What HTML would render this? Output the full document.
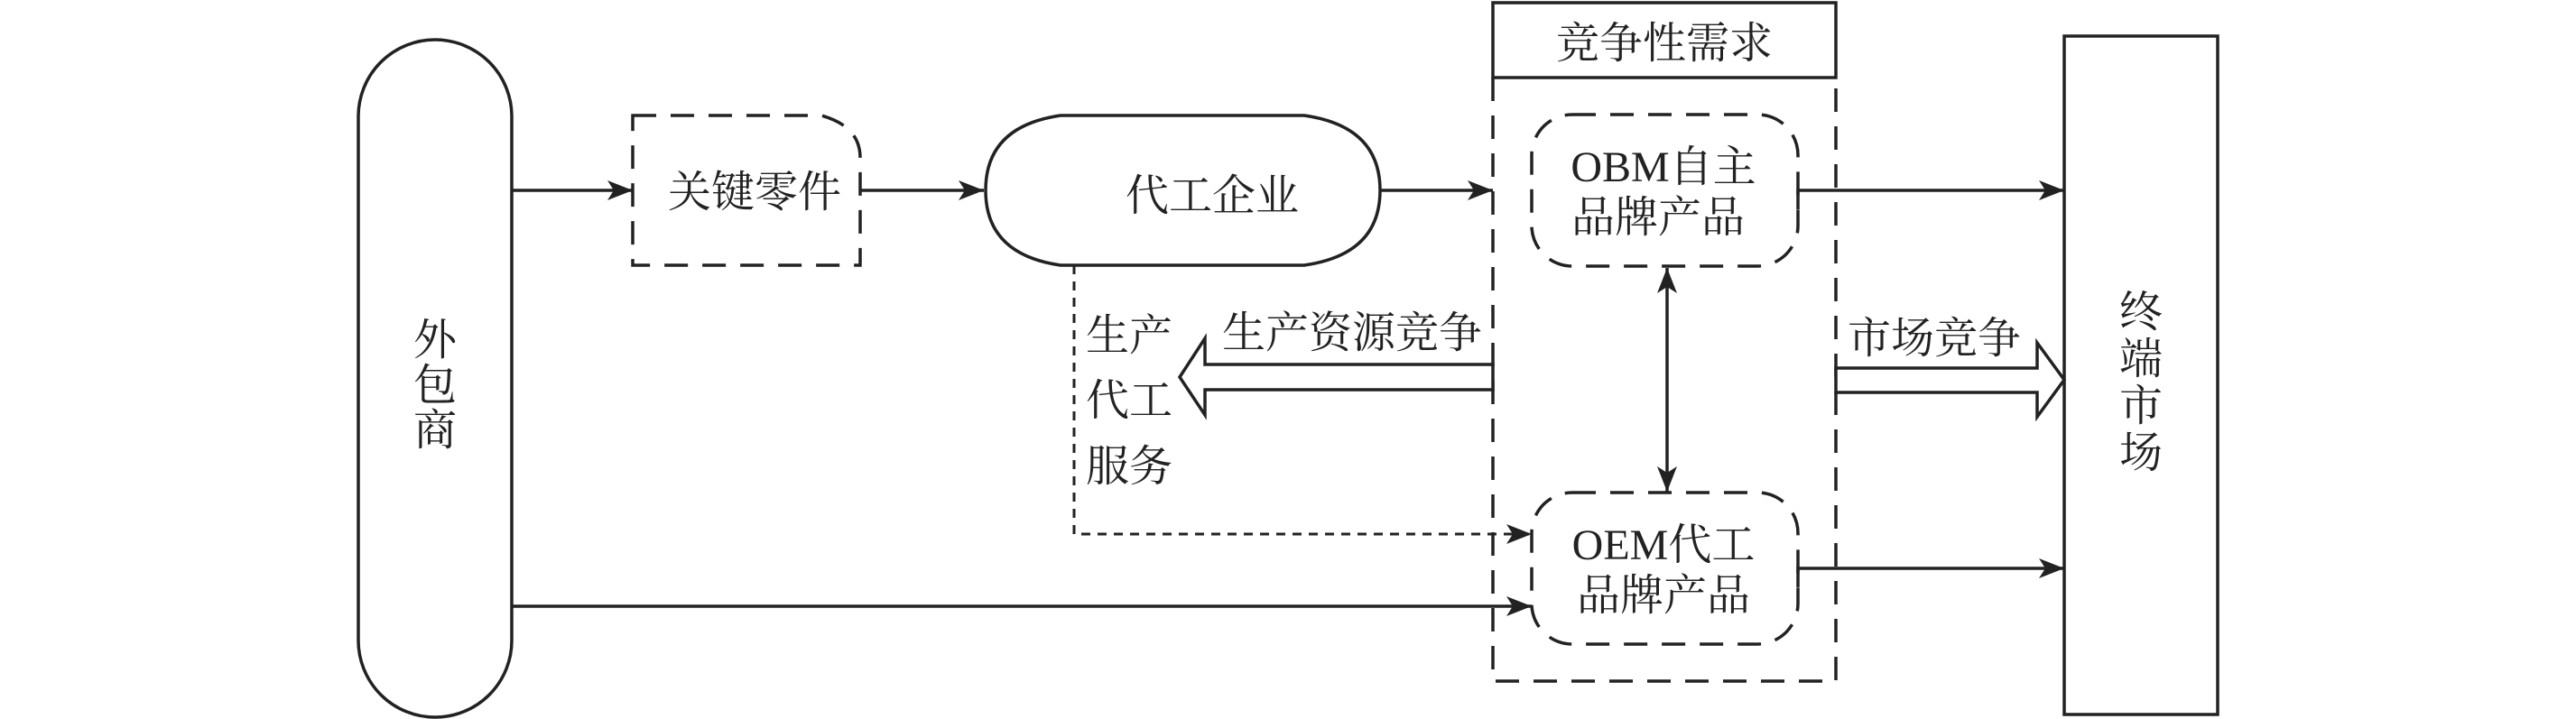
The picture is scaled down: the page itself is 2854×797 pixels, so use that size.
<!DOCTYPE html>
<html><head><meta charset="utf-8"><style>
html,body{margin:0;padding:0;background:#fff;}
svg{display:block;}
text{font-family:"Liberation Serif","Noto Serif CJK SC","Noto Sans CJK SC",serif;fill:#222;font-size:48px;}
</style></head><body>
<svg width="2854" height="797" viewBox="0 0 2854 797" xmlns="http://www.w3.org/2000/svg">
<defs>
<marker id="a" markerWidth="30" markerHeight="22" refX="28" refY="11" orient="auto" markerUnits="userSpaceOnUse">
<path d="M0,0 L28,11 L0,22 L7,11 Z" fill="#222"/>
</marker>
<marker id="as" markerWidth="30" markerHeight="22" refX="28" refY="11" orient="auto-start-reverse" markerUnits="userSpaceOnUse">
<path d="M0,0 L28,11 L0,22 L7,11 Z" fill="#222"/>
</marker>
</defs>
<g stroke="#222" stroke-width="3.5" fill="none">
<!-- 外包商 -->
<rect x="397" y="44" width="170" height="751" rx="85" ry="85"/>
<!-- 关键零件 -->
<path d="M701,128 L910,128 Q953,140 953,175 L953,294 L701,294 Z" stroke-dasharray="26,16"/>
<!-- 代工企业 -->
<path d="M1175,128 L1445,128 Q1529,140 1529,211 Q1529,282 1445,294 L1175,294 Q1092,282 1092,211 Q1092,140 1175,128 Z"/>
<!-- container -->
<rect x="1654" y="3" width="380" height="83"/>
<path d="M1654,86 L1654,755 L2034,755 L2034,86" stroke-dasharray="26,16"/>
<!-- OBM / OEM boxes -->
<rect x="1697" y="127" width="295" height="168" rx="45" ry="45" stroke-dasharray="26,16"/>
<rect x="1697" y="546" width="295" height="168" rx="45" ry="45" stroke-dasharray="26,16"/>
<!-- terminal -->
<rect x="2287" y="40" width="170" height="752"/>
<!-- connectors -->
<line x1="567" y1="211" x2="701" y2="211" marker-end="url(#a)"/>
<line x1="953" y1="211" x2="1090" y2="211" marker-end="url(#a)"/>
<line x1="1529" y1="211" x2="1654" y2="211" marker-end="url(#a)"/>
<path d="M1992,232 L1992,211 L2287,211" marker-end="url(#a)"/>
<path d="M1992,651 L1992,630 L2287,630" marker-end="url(#a)"/>
<line x1="567" y1="672" x2="1697" y2="672" marker-end="url(#a)"/>
<path d="M1190,294 L1190,592 L1697,592" stroke-dasharray="10,8" stroke-width="3" marker-end="url(#a)"/>
<line x1="1847" y1="297" x2="1847" y2="545" marker-start="url(#as)" marker-end="url(#a)"/>
<!-- hollow arrows -->
<path d="M1654,404 L1335,404 L1335,375 L1307,418 L1335,460 L1335,432 L1654,432 Z" fill="#fff"/>
<path d="M2034,408 L2257,408 L2257,380 L2287,421 L2257,462 L2257,435 L2034,435 Z" fill="#fff"/>
</g>
<!-- texts -->
<text x="482" y="393" text-anchor="middle">外</text>
<text x="482" y="443" text-anchor="middle">包</text>
<text x="482" y="493" text-anchor="middle">商</text>
<text x="836" y="229" text-anchor="middle">关键零件</text>
<text x="1343" y="233" text-anchor="middle">代工企业</text>
<text x="1844" y="64" text-anchor="middle">竞争性需求</text>
<text x="1843" y="201" text-anchor="middle">OBM自主</text>
<text x="1837" y="257" text-anchor="middle">品牌产品</text>
<text x="1843" y="620" text-anchor="middle">OEM代工</text>
<text x="1843" y="676" text-anchor="middle">品牌产品</text>
<text x="1498" y="385" text-anchor="middle">生产资源竞争</text>
<text x="1251" y="388" text-anchor="middle">生产</text>
<text x="1251" y="460" text-anchor="middle">代工</text>
<text x="1251" y="533" text-anchor="middle">服务</text>
<text x="2143" y="391" text-anchor="middle">市场竞争</text>
<text x="2372" y="362" text-anchor="middle">终</text>
<text x="2372" y="414" text-anchor="middle">端</text>
<text x="2372" y="466" text-anchor="middle">市</text>
<text x="2372" y="518" text-anchor="middle">场</text>
</svg>
</body></html>
